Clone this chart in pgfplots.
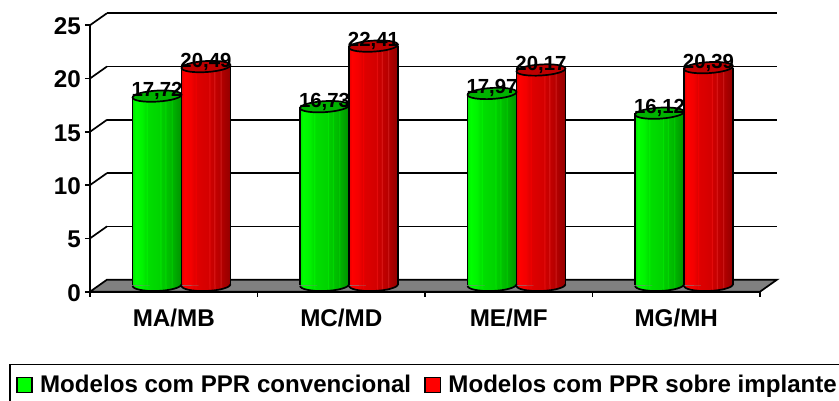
\documentclass[border=0pt]{standalone}
\usepackage{fontspec}
\setmainfont{Liberation Sans}
\usepackage{pgfplots}
\usepackage{pgfplotstable}
\pgfplotsset{compat=1.18}
\pgfplotstableread{
x y
0.854 17.72
1.854 16.73
2.854 17.97
3.854 16.12
}\greendata
\pgfplotstableread{
x y
1.146 20.49
2.146 22.41
3.146 20.17
4.146 20.39
}\reddata
\pgfdeclarehorizontalshading{greenbar}{100bp}{rgb(0bp)=(0,.9,0);rgb(25bp)=(0,.9,0);rgb(28bp)=(0,1,0);rgb(35bp)=(0,.95,0);rgb(38.5bp)=(0,.88,0);rgb(39.5bp)=(0,.95,0);rgb(40.5bp)=(0,.87,0);rgb(52.5bp)=(0,.83,0);rgb(53.5bp)=(0,.9,0);rgb(54.5bp)=(0,.8,0);rgb(57.5bp)=(0,.78,0);rgb(58.5bp)=(0,.86,0);rgb(59.5bp)=(0,.76,0);rgb(64bp)=(0,.72,0);rgb(65bp)=(0,.8,0);rgb(66bp)=(0,.7,0);rgb(70bp)=(0,.64,0);rgb(75bp)=(0,.58,0);rgb(100bp)=(0,.58,0)}
\pgfdeclarehorizontalshading{redbar}{100bp}{rgb(0bp)=(.9,0,0);rgb(25bp)=(.9,0,0);rgb(28bp)=(1,0,0);rgb(35bp)=(.95,0,0);rgb(38.5bp)=(.88,0,0);rgb(39.5bp)=(.95,0,0);rgb(40.5bp)=(.87,0,0);rgb(52.5bp)=(.83,0,0);rgb(53.5bp)=(.9,.05,.05);rgb(54.5bp)=(.8,0,0);rgb(57.5bp)=(.78,0,0);rgb(58.5bp)=(.86,.1,.1);rgb(59.5bp)=(.76,0,0);rgb(64bp)=(.72,0,0);rgb(65bp)=(.8,.1,.1);rgb(66bp)=(.7,0,0);rgb(70bp)=(.64,0,0);rgb(75bp)=(.58,0,0);rgb(100bp)=(.58,0,0)}
\pgfdeclareplotmark{greenbase}{\pgftransformrotate{2}\pgfpathmoveto{\pgfqpoint{-24.5pt}{0pt}}\pgfpatharc{180}{360}{24.5pt and 6pt}\pgfshadepath{greenbar}{0}\pgfusepath{stroke}}
\pgfdeclareplotmark{redbase}{\pgftransformrotate{2}\pgfpathmoveto{\pgfqpoint{-24.5pt}{0pt}}\pgfpatharc{180}{360}{24.5pt and 6pt}\pgfshadepath{redbar}{0}\pgfusepath{stroke}}
\pgfdeclareplotmark{captop}{\pgftransformrotate{3.5}\pgfpathellipse{\pgfpointorigin}{\pgfqpoint{24.5pt}{0pt}}{\pgfqpoint{0pt}{5.5pt}}\pgfusepathqfillstroke}
\definecolor{gtop}{RGB}{0,178,0}
\definecolor{rtop}{RGB}{190,0,0}
\newcommand{\bigbf}{\fontsize{24.2}{26}\selectfont\bfseries}
\pgfplotsset{common/.style={scale only axis,width=670pt,height=266.5pt,xmin=0.5,xmax=4.5,ymin=0,ymax=25,clip=false,anchor=south west}}
\begin{document}
\begin{tikzpicture}[x=1pt,y=1pt]
\path[use as bounding box,clip] (0,0) rectangle (839,401);
% back wall
\begin{axis}[common,at={(107pt,121.2pt)},axis line style={draw=none},xtick=\empty,ytick={5,10,15,20,25},yticklabels={},major tick length=0pt,ymajorgrids,grid style={black,line width=1.7pt}]
\end{axis}
% front frame
\begin{axis}[common,at={(90pt,109.3pt)},axis x line*=bottom,axis y line*=left,axis line style={black,line width=1.7pt},
 xtick={0.5,1.5,2.5,3.5,4.5},xticklabels={MA/MB,MC/MD,ME/MF,MG/MH},x tick label as interval,
 ytick={0,5,10,15,20,25},tick align=outside,major tick length=5pt,tick style={black,line width=1.7pt},
 /pgf/number format/assume math mode=true,
 ticklabel style={font=\bigbf,inner sep=0pt},
 yticklabel style={xshift=-4pt,yshift=-1pt},
 xticklabel style={yshift=-12pt}]
\addplot[fill=gray,draw=black,line width=1.7pt] coordinates {(0.5,0) (0.6015,1.127) (4.6015,1.127) (4.5,0)} -- cycle;
\pgfplotsinvokeforeach{5,10,15,20,25}{\draw[black,line width=1.7pt] (axis cs:0.5,#1) -- ++(17pt,12pt);}
\end{axis}
% cylinders
\begin{axis}[common,at={(97.75pt,116pt)},hide axis,
 legend style={at={(-0.1325,-0.2948)},anchor=north west,draw=black,line width=1.7pt,fill=white,inner xsep=6pt,inner ysep=11pt,
  legend columns=2,font=\fontsize{24.1}{26}\selectfont\bfseries,/tikz/every even column/.append style={column sep=10pt},
  nodes={inner sep=0pt,inner xsep=3pt}},
 legend cell align=left]
\addlegendimage{legend image code/.code={\path[draw=none,fill=none] (0pt,0pt) -- (20.5pt,0pt);\draw[fill=green,draw=black,line width=1.7pt] (0pt,-7.5pt) rectangle (15.5pt,7.5pt);}}
\addlegendentry{Modelos com PPR convencional}
\addlegendimage{legend image code/.code={\path[draw=none,fill=none] (0pt,0pt) -- (20.5pt,0pt);\draw[fill=red,draw=black,line width=1.7pt] (0pt,-7.5pt) rectangle (15.5pt,7.5pt);}}
\addlegendentry{Modelos com PPR sobre implante}
\pgfplotsinvokeforeach{0,1,2,3}{
\addplot[ybar,bar width=49pt,bar shift=0pt,draw=none,shading=greenbar,forget plot,restrict x to domain=#1.0:#1.999] table[x=x,y=y]{\greendata};
\addplot[only marks,mark=greenbase,mark options={draw=black,line width=1.7pt},forget plot,restrict x to domain=#1.0:#1.999] table[x=x,y expr=0]{\greendata};
}
\addplot[ycomb,black,line width=1.7pt,xshift=-24.5pt,forget plot] table[x=x,y=y]{\greendata};
\addplot[only marks,mark=captop,mark options={draw=black,fill=gtop,line width=1.7pt},forget plot] table[x=x,y=y]{\greendata};
\pgfplotsinvokeforeach{1,2,3,4}{
\addplot[ybar,bar width=49pt,bar shift=0pt,draw=none,shading=redbar,forget plot,restrict x to domain=#1.0:#1.999] table[x=x,y=y]{\reddata};
\addplot[only marks,mark=redbase,mark options={draw=black,line width=1.7pt},forget plot,restrict x to domain=#1.0:#1.999] table[x=x,y expr=0]{\reddata};
}
\addplot[ycomb,black,line width=1.7pt,xshift=-24.5pt,forget plot] table[x=x,y=y]{\reddata};
\addplot[ycomb,black,line width=1.7pt,xshift=24.5pt,forget plot] table[x=x,y=y]{\reddata};
\addplot[only marks,mark=captop,mark options={draw=black,fill=rtop,line width=1.7pt},forget plot] table[x=x,y=y]{\reddata};
\pgfplotsset{every node near coord/.style={font=\fontsize{20.4}{22}\selectfont\bfseries,anchor=center,yshift=5pt,inner sep=0pt,black}}
\addplot[only marks,mark=none,draw=none,nodes near coords,/pgf/number format/.cd,use comma,fixed,fixed zerofill,precision=2,assume math mode=true,/pgfplots/.cd,forget plot] table[x=x,y=y]{\greendata};
\addplot[only marks,mark=none,draw=none,nodes near coords,/pgf/number format/.cd,use comma,fixed,fixed zerofill,precision=2,assume math mode=true,/pgfplots/.cd,forget plot] table[x=x,y=y]{\reddata};
\end{axis}
\end{tikzpicture}
\end{document}
